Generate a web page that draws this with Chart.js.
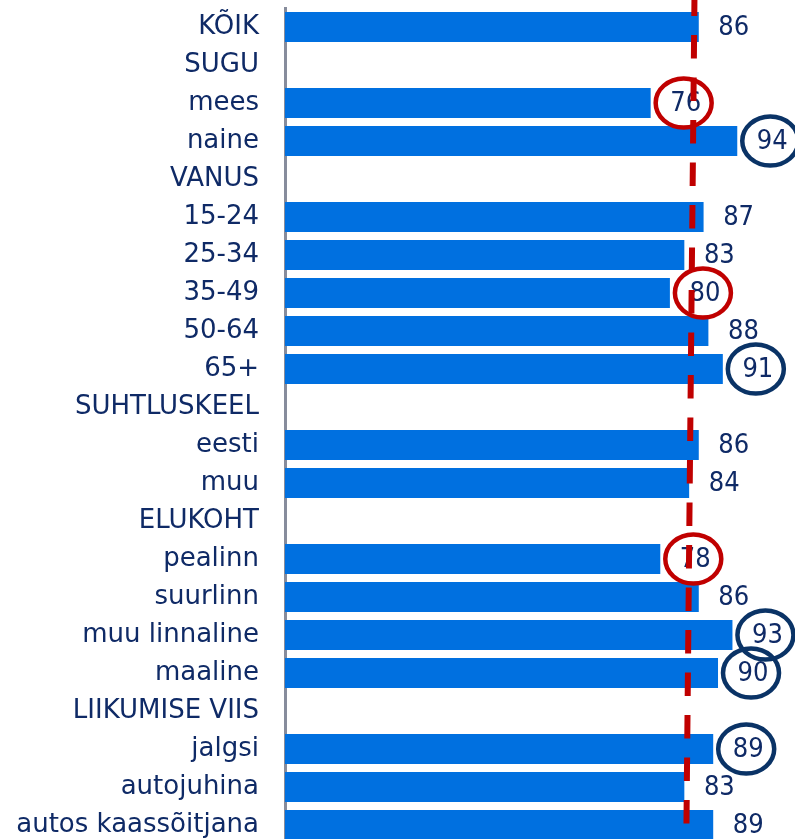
<!DOCTYPE html>
<html lang="et">
<head>
<meta charset="UTF-8">
<title>Tulemused rühmade kaupa</title>
<script src="https://cdn.jsdelivr.net/npm/chart.js"></script>
<style>
    body {
        margin: 0;
        background: #ffffff;
        overflow: hidden;
    }
    .wrap {
        width: 795px;
        height: 844px;
        position: relative;
    }
</style>
</head>
<body>
<div class="wrap">
    <canvas id="chart"></canvas>
</div>
<script>
// rühmad (pealkirjaread on ilma väärtuseta)
const categories = ['KÕIK', 'SUGU', 'mees', 'naine', 'VANUS', '15-24', '25-34', '35-49', '50-64', '65+',
    'SUHTLUSKEEL', 'eesti', 'muu', 'ELUKOHT', 'pealinn', 'suurlinn', 'muu linnaline', 'maaline',
    'LIIKUMISE VIIS', 'jalgsi', 'autojuhina', 'autos kaassõitjana'];
const values = [86, null, 76, 94, null, 87, 83, 80, 88, 91, null, 86, 84, null, 78, 86, 93, 90, null, 89, 83, 89];

// ringiga märgitud rühmad
const lowMarked = ['mees', '35-49', 'pealinn'];
const highMarked = ['naine', '65+', 'muu linnaline', 'maaline', 'jalgsi'];

// punase katkendjoone väärtus ülal ja all
const refLine = [85.1, 83.4];

const NAVY = '#0f2a66';
const RED = '#c00000';

const overlay = {
    id: 'overlay',
    afterDatasetsDraw(chart) {
        const ctx = chart.ctx;
        const x = chart.scales.x;
        const y = chart.scales.y;
        ctx.save();

        // väärtuste sildid
        ctx.font = '27px "DejaVu Sans Condensed", "DejaVu Sans"';
        ctx.fillStyle = NAVY;
        ctx.textAlign = 'center';
        ctx.textBaseline = 'middle';
        values.forEach((v, i) => {
            if (v === null) return;
            ctx.fillText(String(v), x.getPixelForValue(v) + 35, y.getPixelForValue(i) + 1);
        });

        // keskmise joon
        ctx.beginPath();
        ctx.setLineDash([23.5, 19]);
        ctx.lineDashOffset = 7.5;
        ctx.strokeStyle = RED;
        ctx.lineWidth = 6;
        ctx.moveTo(x.getPixelForValue(refLine[0]), 0);
        ctx.lineTo(x.getPixelForValue(refLine[1]), chart.height);
        ctx.stroke();
        ctx.setLineDash([]);

        // ringid
        ctx.lineWidth = 4.5;
        categories.forEach((c, i) => {
            let color = null;
            if (lowMarked.includes(c)) color = RED;
            if (highMarked.includes(c)) color = '#0a3366';
            if (!color) return;
            const cx = x.getPixelForValue(values[i]) + 35;
            const cy = y.getPixelForValue(i);
            ctx.strokeStyle = color;
            ctx.beginPath();
            ctx.ellipse(cx - 2, cy, 28, 24.5, 0, 0, Math.PI * 2);
            ctx.stroke();
        });
        ctx.restore();
    }
};

new Chart(document.getElementById('chart'), {
    type: 'bar',
    data: {
        labels: categories,
        datasets: [{
            data: values,
            backgroundColor: '#0070e0',
            borderWidth: 0,
            categoryPercentage: 1,
            barPercentage: 0.79
        }]
    },
    options: {
        indexAxis: 'y',
        responsive: true,
        maintainAspectRatio: false,
        animation: false,
        layout: { padding: { top: 8, right: 0, bottom: 0, left: 0 } },
        scales: {
            x: {
                display: false,
                min: 0,
                max: 106
            },
            y: {
                grid: { display: false, drawTicks: false },
                border: { display: true, color: '#878c9c', width: 3 },
                ticks: {
                    autoSkip: false,
                    padding: 26,
                    color: NAVY,
                    font: { family: 'DejaVu Sans', size: 26 }
                },
                afterFit(scale) {
                    scale.width = 285;
                    scale.paddingTop = 0;
                    scale.paddingBottom = 0;
                }
            }
        },
        plugins: {
            legend: { display: false },
            tooltip: { enabled: false }
        }
    },
    plugins: [overlay]
});
</script>
</body>
</html>
